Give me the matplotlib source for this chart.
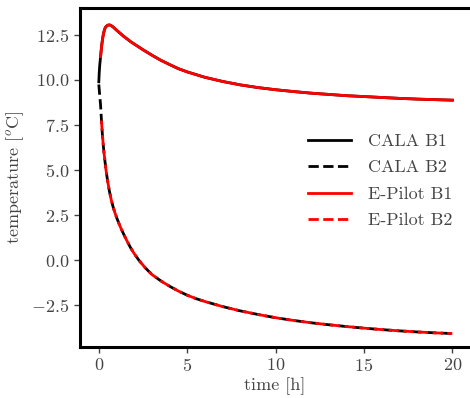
import matplotlib
matplotlib.use('Agg')
import matplotlib.pyplot as plt

# Values.
t_b1 = [0.0, 0.02, 0.05, 0.08, 0.1, 0.15, 0.2, 0.25, 0.3, 0.35, 0.4, 0.5, 0.6, 0.7, 0.8, 0.9, 1.0,
        1.2, 1.4, 1.6, 1.8, 2.0, 2.5, 3.0, 3.5, 4.0, 4.5, 5.0, 6.0, 7.0, 8.0, 9.0, 10.0,
        11.0, 12.0, 13.0, 14.0, 15.0, 16.0, 17.0, 18.0, 19.0, 20.0]
v_b1 = [9.9, 10.35, 10.8, 11.1, 11.3, 11.8, 12.2, 12.5, 12.72, 12.87, 12.96, 13.04, 13.06, 13.02, 12.95, 12.86, 12.77,
        12.6, 12.43, 12.28, 12.13, 12.0, 11.68, 11.38, 11.1, 10.86, 10.63, 10.45, 10.15, 9.92, 9.73, 9.58, 9.46,
        9.36, 9.27, 9.2, 9.13, 9.08, 9.03, 8.98, 8.94, 8.91, 8.88]

t_b2 = [0.0, 0.03, 0.06, 0.1, 0.15, 0.2, 0.25, 0.3, 0.4, 0.5, 0.6, 0.7, 0.8, 0.9, 1.0,
        1.2, 1.4, 1.6, 1.8, 2.0, 2.3, 2.6, 3.0, 3.5, 4.0, 4.5, 5.0, 5.5, 6.0, 7.0, 8.0, 9.0, 10.0,
        11.0, 12.0, 13.0, 14.0, 15.0, 16.0, 17.0, 18.0, 19.0, 20.0]
v_b2 = [9.75, 9.4, 9.05, 8.6, 7.75, 7.0, 6.4, 5.9, 5.05, 4.38, 3.82, 3.36, 2.98, 2.66, 2.38,
        1.88, 1.45, 1.05, 0.68, 0.36, -0.05, -0.4, -0.8, -1.15, -1.45, -1.72, -1.95, -2.14, -2.3, -2.58, -2.82, -3.02, -3.2,
        -3.35, -3.48, -3.59, -3.69, -3.78, -3.86, -3.93, -3.99, -4.04, -4.08]

# E-Pilot curves start slightly after t = 0 (index 4 -> t = 0.1)
start_epilot = 4

labels = ['CALA B1', 'CALA B2', 'E-Pilot B1', 'E-Pilot B2']

text_col = '#444444'
plt.rcParams['font.family'] = 'serif'
plt.rcParams['font.serif'] = ['cmr10']
plt.rcParams['mathtext.fontset'] = 'cm'
plt.rcParams['axes.formatter.use_mathtext'] = True
plt.rcParams['font.size'] = 13

fig = plt.figure(figsize=(4.7, 3.98), dpi=100)
ax = fig.add_axes([0.170, 0.128, 0.83, 0.852])

ax.plot(t_b1, v_b1, '-', color='black', lw=2, label=labels[0])
ax.plot(t_b2, v_b2, '--', color='black', lw=2, label=labels[1])
ax.plot(t_b1[start_epilot:], v_b1[start_epilot:], '-', color='red', lw=2, label=labels[2])
ax.plot(t_b2[start_epilot:], v_b2[start_epilot:], '--', color='red', lw=2, label=labels[3])

ax.set_xlim(-1.07, 21.0)
ax.set_ylim(-4.83, 14.0)
ax.set_xticks([0, 5, 10, 15, 20])
ax.set_yticks([-2.5, 0.0, 2.5, 5.0, 7.5, 10.0, 12.5])
ax.set_xlabel('time [h]', color=text_col, labelpad=2)
ax.set_ylabel(r'temperature [$^o$C]', color=text_col)
ax.tick_params(colors=text_col, labelcolor=text_col, width=1, length=4)

for s in ['left', 'bottom', 'top']:
    ax.spines[s].set_linewidth(2.2)
ax.spines['right'].set_visible(False)

leg = ax.legend(loc='center left', bbox_to_anchor=(0.543, 0.49), frameon=False,
                handlelength=2.4, handletextpad=0.9, labelspacing=0.6)
for txt in leg.get_texts():
    txt.set_color(text_col)

plt.savefig('out.png', dpi=100)
